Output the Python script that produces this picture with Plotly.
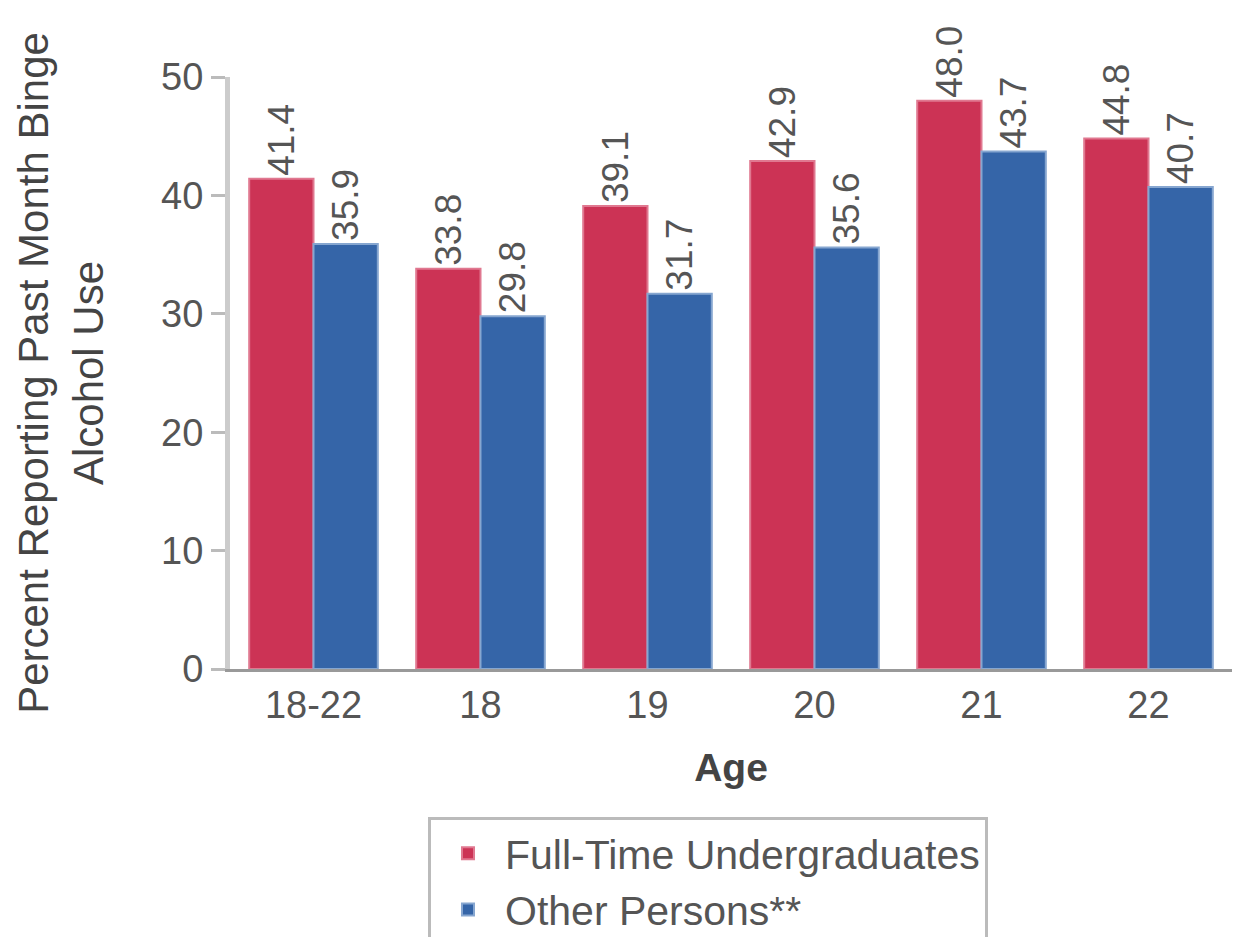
import plotly.graph_objects as go

ages = ["18-22", "18", "19", "20", "21", "22"]
fulltime = [41.4, 33.8, 39.1, 42.9, 48.0, 44.8]
other = [35.9, 29.8, 31.7, 35.6, 43.7, 40.7]
series_names = ["Full-Time Undergraduates", "Other Persons**"]
y_ticks = [0, 10, 20, 30, 40, 50]

RED = "#CC3355"
BLUE = "#3565A8"
TXT = "#555555"
FONT = "Liberation Sans, Arial, sans-serif"

fig = go.Figure()
for name, vals, col, edge in [(series_names[0], fulltime, RED, "#E07890"),
                              (series_names[1], other, BLUE, "#86A6D0")]:
    fig.add_trace(go.Bar(
        x=ages, y=vals, name=name,
        marker=dict(color=col, line=dict(color=edge, width=2)),
        text=[f"{v:.1f}" for v in vals],
        textposition="outside", textangle=-90, constraintext="none",
        textfont=dict(size=37, color="#555555", family=FONT),
        cliponaxis=False,
    ))

fig.update_layout(
    width=1248, height=937,
    margin=dict(l=230, r=16, t=77, b=268, autoexpand=False),
    paper_bgcolor="white", plot_bgcolor="white",
    barmode="group", bargap=0.23, bargroupgap=0,
    font=dict(family=FONT, color=TXT, size=36),
    showlegend=True,
    legend=dict(
        x=0.1976, xanchor="left", y=-0.250, yanchor="top",
        bordercolor="#BBBBBB", borderwidth=3,
        font=dict(size=41, color=TXT, family=FONT),
        itemwidth=64, tracegroupgap=0,
    ),
    xaxis=dict(
        showline=True, linecolor="#999999", linewidth=3,
        ticks="", tickfont=dict(size=38, color=TXT),
        title=dict(text="<b>Age</b>", font=dict(size=39, color="#444444"), standoff=30),
        range=[-0.5, 5.5],
    ),
    yaxis=dict(
        range=[0, 50], tickvals=y_ticks,
        showline=True, linecolor="#CCCCCC", linewidth=5,
        ticks="outside", ticklen=14, tickcolor="#BBBBBB", tickwidth=3,
        tickfont=dict(size=38, color=TXT),
        showgrid=False, zeroline=False,
        title=dict(text="Percent Reporting Past Month Binge<br>Alcohol Use",
                   font=dict(size=42, color="#444444"), standoff=46),
    ),
)

fig.write_html("out.html")
